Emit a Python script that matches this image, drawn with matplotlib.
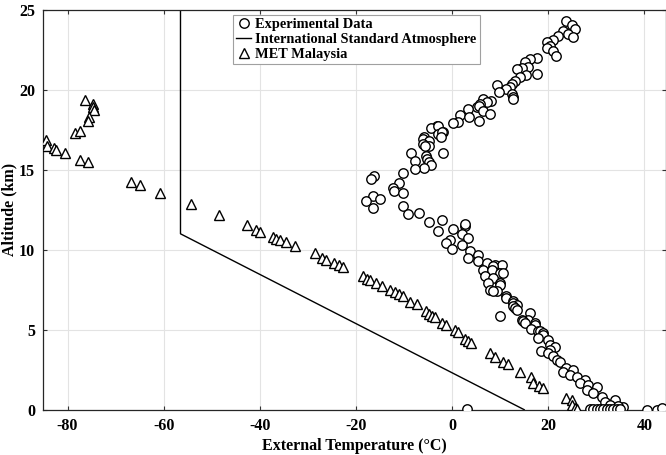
import matplotlib
matplotlib.use('Agg')
import matplotlib.pyplot as plt

plt.rcParams['font.family'] = ['Liberation Serif', 'DejaVu Serif']
plt.rcParams['font.weight'] = 'bold'
plt.rcParams['axes.unicode_minus'] = False

# Experimental data (temperature degC, altitude km)
exp_temp = [23.8, 24.9, 25.6, 23.1, 24.2, 25.2, 22.1, 21.0, 19.7, 20.4, 19.7, 21.0, 21.7,
            17.6, 16.2, 15.1, 15.8, 14.5, 13.4, 17.6, 15.4, 14.1, 13.1, 12.4, 9.25, 12.0, 11.3,
            9.8, 12.4, 12.7, 12.6,
            6.5, 8.1, 7.2, 5.8, 5.1, 5.7, 3.3, 6.5, 7.85, 1.6, 3.5, 5.5, 1.2, 0.15,
            -3.1, -4.4, -2.9, -1.9, -3.0, -2.2, -2.3, -5.75, -6.0, -4.7, -6.1, -4.7, -5.7,
            -8.5, -1.9, -5.4, -5.3, -7.8, -4.7, -4.4, -5.75, -7.8, -10.3,
            -16.2, -16.9, -11.0, -12.35, -12.0, -10.3, -16.5, -15.1, -17.9, -16.5, -10.3, -9.2, -6.8,
            -4.85, -2.1, -2.9, 0.2, 2.6, 2.6, 2.0, 3.3, -0.5, -1.2, -0.1, 2.0, 3.7, 3.3, 5.4, 5.4,
            7.2, 6.5, 8.9, 10.3, 8.5, 8.2, 9.9, 10.6, 6.8, 8.5, 9.9, 7.5, 9.9, 7.85, 9.25, 8.5,
            11.3, 11.3, 12.7, 12.7, 13.4, 12.7, 13.1, 13.4, 9.9,
            16.2, 15.8, 14.5, 14.8, 15.1, 17.2, 17.2, 16.5, 17.9, 18.3, 19.0, 19.0, 17.9, 20.0,
            20.35, 21.4, 20.35, 18.6, 20.0, 21.0, 21.75, 22.4, 23.8, 25.2, 23.1, 24.5, 25.9,
            27.6, 26.6, 28.3, 30.1, 28.0, 29.4, 31.1, 33.9, 31.8, 32.85, 35.6, 34.5,
            28.7, 29.4, 30.1, 30.7, 31.4, 32.2, 32.85, 33.5, 34.3, 35.0, 40.5, 42.6, 43.6, 3.0]
exp_alt = [24.34, 24.03, 23.82, 23.71, 23.51, 23.3, 23.4, 23.15, 22.99, 22.73, 22.61, 22.46, 22.15,
           21.98, 21.94, 21.73, 21.42, 21.35, 21.31, 21.0, 20.93, 20.79, 20.58, 20.37, 20.31, 20.16, 20.06,
           19.85, 19.74, 19.54, 19.43,
           19.43, 19.32, 19.22, 19.12, 18.91, 19.0, 18.8, 18.7, 18.49, 18.42, 18.28, 18.07, 18.0, 17.92,
           17.72, 17.59, 17.75, 17.38, 17.23, 17.34, 17.03, 17.03, 16.92, 16.81, 16.6, 16.5, 16.5,
           16.08, 16.08, 15.87, 15.66, 15.56, 15.46, 15.31, 15.14, 15.04, 14.83,
           14.62, 14.41, 14.2, 13.89, 13.68, 13.58, 13.36, 13.2, 13.05, 12.63, 12.74, 12.21, 12.32,
           11.73, 11.86, 11.17, 11.27, 11.48, 11.59, 10.96, 10.75, 10.6, 10.44, 10.06, 10.27, 9.91, 9.5, 9.7, 9.29,
           9.18, 8.76, 9.08, 9.08, 8.97, 8.76, 8.56, 8.56, 8.34, 8.24, 7.93, 7.93, 7.82, 7.51, 7.4, 7.4,
           7.09, 6.99, 6.78, 6.68, 6.57, 6.46, 6.36, 6.25, 5.85,
           6.05, 5.63, 5.63, 5.52, 5.42, 5.42, 5.31, 5.04, 4.89, 4.89, 4.79, 4.69, 4.48, 4.37,
           4.06, 3.95, 3.75, 3.64, 3.54, 3.33, 3.12, 3.01, 2.6, 2.49, 2.38, 2.18, 2.07,
           1.86, 1.66, 1.55, 1.44, 1.24, 1.03, 0.82, 0.61, 0.5, 0.29, 0.19, 0.25,
           0.02, 0.02, 0.02, 0.02, 0.02, 0.02, 0.02, 0.02, 0.02, 0.02, 0.0, 0.0, 0.09, 0.03]

# International Standard Atmosphere
isa_temp = [15, -56.5, -56.5]
isa_alt = [0, 11, 25]

# MET Malaysia
met_temp = [-76.4, -74.8, -74.6, -74.5, -75.5, -75.8, -78.4, -77.4, -84.5, -84.2, -82.8, -82.3,
            -80.5, -77.4, -75.8, -66.8, -64.9, -60.7, -54.4, -48.5, -42.7, -40.75, -39.9,
            -37.3, -36.6, -35.9, -34.5, -32.6, -28.6, -27.0, -26.2, -24.6, -23.5, -22.7,
            -18.5, -17.8, -17.1, -15.9, -14.5, -13.0, -11.9, -11.0, -10.2, -8.7, -7.4,
            -5.5, -4.8, -4.1, -3.6, -2.1, -1.3, 0.56, 1.25, 2.6, 3.3, 4.0, 7.85, 8.9, 10.6, 11.7,
            14.1, 16.5, 16.9, 18.1, 19.0, 23.8, 24.9, 24.9, 25.6, 25.9]
met_alt = [19.36, 19.1, 18.9, 18.76, 18.28, 18.07, 17.28, 17.42, 16.86, 16.5, 16.36, 16.23,
           16.04, 15.62, 15.46, 14.24, 14.08, 13.55, 12.84, 12.15, 11.52, 11.23, 11.13,
           10.79, 10.69, 10.6, 10.5, 10.23, 9.77, 9.5, 9.35, 9.18, 9.03, 8.93,
           8.34, 8.2, 8.09, 7.93, 7.76, 7.47, 7.34, 7.24, 7.09, 6.74, 6.61,
           6.15, 6.0, 5.88, 5.8, 5.42, 5.27, 5.0, 4.83, 4.44, 4.27, 4.16, 3.54, 3.29, 3.01, 2.87,
           2.38, 2.03, 1.66, 1.51, 1.38, 0.75, 0.61, 0.29, 0.09, 0.04]

fig = plt.figure(figsize=(6.66, 4.55), dpi=100)
ax = fig.add_axes([0.0653, 0.0996, 0.9347, 0.8785])

ax.plot(exp_temp, exp_alt, 'o', mfc='white', mec='black', ms=6.8, mew=1.0,
        label='Experimental Data', zorder=3)
ax.plot(isa_temp, isa_alt, '-', color='black', lw=1.0,
        label='International Standard Atmosphere', zorder=2)
ax.plot(met_temp, met_alt, '^', mfc='white', mec='black', ms=7.5, mew=1.0,
        label='MET Malaysia', zorder=3)

ax.set_xlim(-85, 44.5)
ax.set_ylim(0, 25)
ax.set_xticks([-80, -60, -40, -20, 0, 20, 40])
ax.set_yticks([0, 5, 10, 15, 20, 25])
ax.grid(True, color='#e3e3e3', lw=0.8)
ax.set_axisbelow(True)
ax.tick_params(direction='in', top=True, right=True, labelsize=11.5, length=3,
               color='#333333', pad=6)
for s in ax.spines.values():
    s.set_color('#262626')
    s.set_linewidth(0.9)

ax.set_xlabel('External Temperature (°C)', fontsize=11.5, fontweight='bold', labelpad=3)
ax.set_ylabel('Altitude (km)', fontsize=11.5, fontweight='bold', labelpad=1)

leg = ax.legend(loc='upper left', bbox_to_anchor=(0.304, 0.988), fontsize=10.4,
                handlelength=1.0, handletextpad=0.3, borderpad=0.25, labelspacing=0.1,
                fancybox=False, framealpha=1, edgecolor='#a0a0a0', borderaxespad=0)
leg.get_frame().set_linewidth(0.8)

fig.savefig('out.png', dpi=100)
